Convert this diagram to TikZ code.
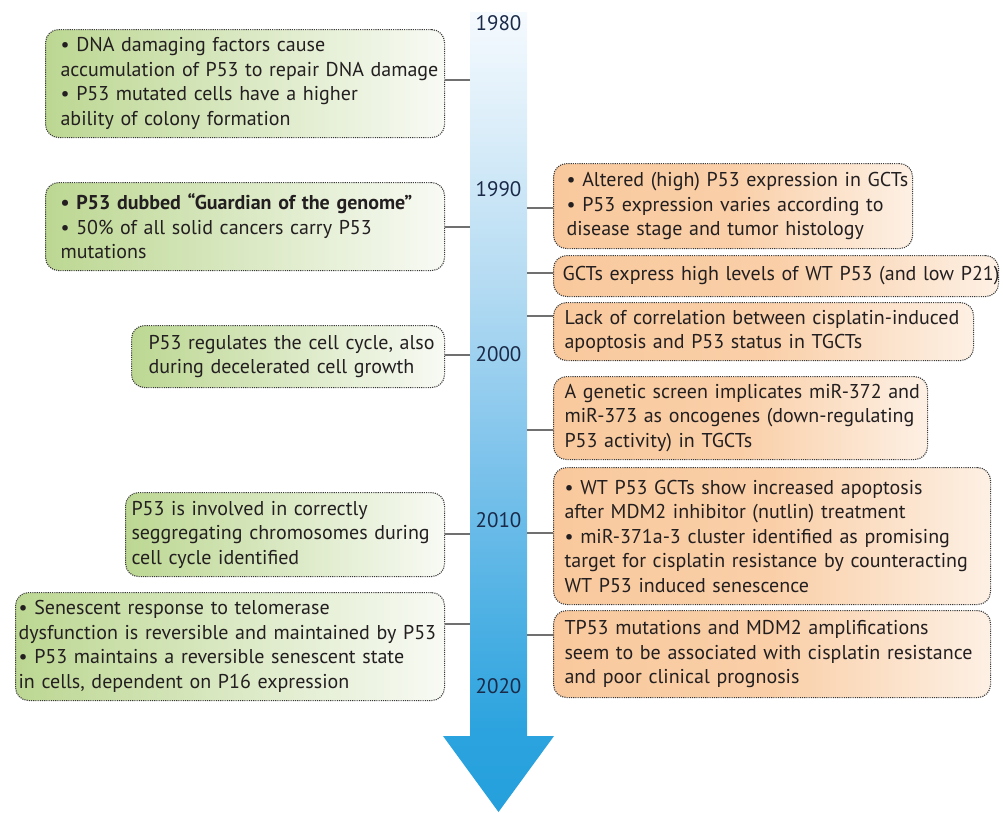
\documentclass[tikz,border=0pt]{standalone}
\usepackage{fontspec}
\setmainfont{PT Sans}
\definecolor{txt}{HTML}{231F20}
\definecolor{yr}{HTML}{1A2A48}
\definecolor{gA}{HTML}{BCD792}
\definecolor{gB}{HTML}{F8FAF4}
\definecolor{oA}{HTML}{F9C99D}
\definecolor{oB}{HTML}{FDF0E4}
\definecolor{bord}{HTML}{3A3A3A}
\definecolor{conn}{HTML}{707070}
\definecolor{aB}{HTML}{25A0DC}
\definecolor{a1}{HTML}{2BA3DE}
\definecolor{a2}{HTML}{4FB1E4}
\definecolor{a3}{HTML}{80C4EC}
\definecolor{a4}{HTML}{B2DAF2}
\definecolor{a5}{HTML}{DAEDF9}
\definecolor{aT}{HTML}{F5FAFE}
\pgfdeclareverticalshading{arrowshade}{100bp}{color(0bp)=(aB); color(25bp)=(aB); color(30bp)=(a1); color(37.5bp)=(a2); color(47.5bp)=(a3); color(57.5bp)=(a4); color(67.5bp)=(a5); color(75bp)=(aT); color(100bp)=(aT)}
\begin{document}
\begin{tikzpicture}[x=1pt,y=-1pt,
  box/.style={draw=bord, line width=1.1pt, dash pattern=on 1.1pt off 1.1pt,
    rounded corners=13pt, anchor=north west, inner xsep=10pt, inner ysep=0pt,
    align=left, text=txt, font=\fontsize{20}{24.5}\selectfont},
  gbox/.style={box, left color=gA, right color=gB, middle color=gA!50!gB},
  obox/.style={box, left color=oA, right color=oB, middle color=oA!85!oB},
  conn/.style={draw=conn, line width=1.1pt},
  year/.style={text=yr, font=\fontsize{21}{24}\selectfont, inner sep=0pt}]
\useasboundingbox (0,0) rectangle (1003,812);
% timeline arrow
\path[shading=arrowshade] (470,12) -- (527,12) -- (527,736) -- (554,736) -- (498.5,812) -- (443,736) -- (470,736) -- cycle;
% connector anchors on the shaft
\coordinate (cL1) at (470,80);
\coordinate (cL2) at (470,227);
\coordinate (cL3) at (470,355);
\coordinate (cL4) at (470,534);
\coordinate (cL5) at (470,624);
\coordinate (cR1) at (527,208);
\coordinate (cR2) at (527,273);
\coordinate (cR3) at (527,316);
\coordinate (cR4) at (527,430);
\coordinate (cR5) at (527,533);
\coordinate (cR6) at (527,635);
% left boxes
\node[gbox, inner xsep=15pt, text width=369pt, minimum height=108pt] (L1) at (45,29)
  {\mbox{• DNA damaging factors cause}\\\mbox{accumulation of P53 to repair DNA damage}\\\mbox{• P53 mutated cells have a higher}\\\mbox{ability of colony formation}};
\node[gbox, inner xsep=15pt, text width=369pt, minimum height=88pt] (L2) at (45,182)
  {\mbox{\textbf{• P53 dubbed “Guardian of the genome”}}\\\mbox{• 50\% of all solid cancers carry P53}\\\mbox{mutations}};
\node[gbox, inner xsep=17pt, text width=279pt, minimum height=62pt] (L3) at (131,325)
  {\mbox{P53 regulates the cell cycle, also}\\\mbox{during decelerated cell growth}};
\node[gbox, inner xsep=6pt, text width=307pt, minimum height=84pt] (L4) at (125,492)
  {\mbox{P53 is involved in correctly}\\\mbox{seggregating chromosomes during}\\\mbox{cell cycle identified}};
\node[gbox, inner xsep=3pt, text width=423pt, minimum height=108pt] (L5) at (15,592)
  {\mbox{• Senescent response to telomerase}\\\mbox{dysfunction is reversible and maintained by P53}\\\mbox{• P53 maintains a reversible senescent state}\\\mbox{in cells, dependent on P16 expression}};
% right boxes
\node[obox, inner xsep=13pt, text width=333pt, minimum height=85pt] (R1) at (553,163)
  {\mbox{• Altered (high) P53 expression in GCTs}\\\mbox{• P53 expression varies according to}\\\mbox{disease stage and tumor histology}};
\node[obox, inner xsep=9pt, text width=427pt, minimum height=41pt] (R2) at (553,255)
  {\mbox{GCTs express high levels of WT P53 (and low P21)}};
\node[obox, inner xsep=11pt, text width=398pt, minimum height=58pt] (R3) at (553,302)
  {\mbox{Lack of correlation between cisplatin-induced}\\\mbox{apoptosis and P53 status in TGCTs}};
\node[obox, inner xsep=11pt, text width=352pt, minimum height=83pt] (R4) at (553,376)
  {\mbox{A genetic screen implicates miR-372 and}\\\mbox{miR-373 as oncogenes (down-regulating}\\\mbox{P53 activity) in TGCTs}};
\node[obox, inner xsep=11pt, text width=415pt, minimum height=137pt] (R5) at (553,467)
  {\mbox{• WT P53 GCTs show increased apoptosis}\\\mbox{after MDM2 inhibitor (nutlin) treatment}\\\mbox{• miR-371a-3 cluster identified as promising}\\\mbox{target for cisplatin resistance by counteracting}\\\mbox{WT P53 induced senescence}};
\node[obox, inner xsep=11pt, text width=415pt, minimum height=87pt] (R6) at (553,610)
  {\mbox{TP53 mutations and MDM2 amplifications}\\\mbox{seem to be associated with cisplatin resistance}\\\mbox{and poor clinical prognosis}};
% connectors
\draw[conn] (cL1) -- (cL1 -| L1.east);
\draw[conn] (cL2) -- (cL2 -| L2.east);
\draw[conn] (cL3) -- (cL3 -| L3.east);
\draw[conn] (cL4) -- (cL4 -| L4.east);
\draw[conn] (cL5) -- (cL5 -| L5.east);
\draw[conn] (cR1) -- (cR1 -| R1.west);
\draw[conn] (cR2) -- (cR2 -| R2.west);
\draw[conn] (cR3) -- (cR3 -| R3.west);
\draw[conn] (cR4) -- (cR4 -| R4.west);
\draw[conn] (cR5) -- (cR5 -| R5.west);
\draw[conn] (cR6) -- (cR6 -| R6.west);
% years
\node[year] (y1980) at (498.5,23) {1980};
\node[year] (y1990) at (498.5,189) {1990};
\node[year] (y2000) at (498.5,354) {2000};
\node[year] (y2010) at (498.5,520) {2010};
\node[year] (y2020) at (498.5,686) {2020};
\end{tikzpicture}
\end{document}
